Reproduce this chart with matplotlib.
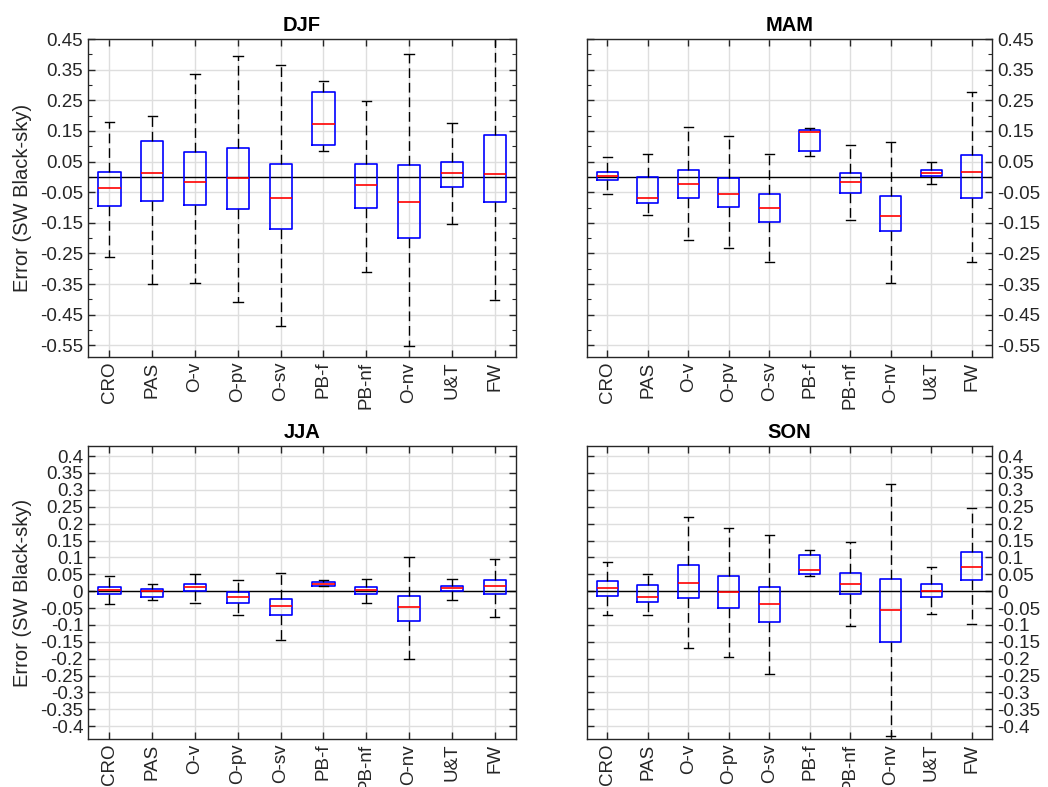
import matplotlib.pyplot as plt
import numpy as np
from matplotlib.ticker import FixedLocator

plt.rcParams['font.family'] = ['Liberation Sans', 'DejaVu Sans']

classes = ['CRO', 'PAS', 'O-v', 'O-pv', 'O-sv', 'PB-f', 'PB-nf', 'O-nv', 'U&T', 'FW']

# per season: lower whisker, Q1, median, Q3, upper whisker
djf_lo = [-0.261, -0.351, -0.347, -0.410, -0.487, 0.086, -0.309, -0.551, -0.154, -0.401]
djf_q1 = [-0.096, -0.078, -0.091, -0.105, -0.170, 0.103, -0.101, -0.201, -0.033, -0.083]
djf_med = [-0.037, 0.013, -0.015, -0.004, -0.070, 0.172, -0.028, -0.083, 0.013, 0.009]
djf_q3 = [0.016, 0.117, 0.080, 0.095, 0.043, 0.276, 0.043, 0.039, 0.048, 0.136]
djf_hi = [0.180, 0.199, 0.336, 0.396, 0.367, 0.312, 0.249, 0.400, 0.176, 0.470]

mam_lo = [-0.055, -0.123, -0.205, -0.233, -0.278, 0.067, -0.142, -0.347, -0.023, -0.278]
mam_q1 = [-0.011, -0.084, -0.070, -0.097, -0.146, 0.086, -0.051, -0.177, 0.004, -0.070]
mam_med = [0.004, -0.070, -0.023, -0.055, -0.101, 0.146, -0.018, -0.128, 0.013, 0.017]
mam_q3 = [0.017, -0.001, 0.022, -0.004, -0.055, 0.154, 0.012, -0.061, 0.022, 0.072]
mam_hi = [0.064, 0.076, 0.163, 0.132, 0.076, 0.159, 0.104, 0.113, 0.049, 0.277]

jja_lo = [-0.038, -0.026, -0.034, -0.071, -0.146, 0.015, -0.034, -0.200, -0.026, -0.076]
jja_q1 = [-0.007, -0.018, -0.001, -0.034, -0.072, 0.016, -0.008, -0.089, 0.000, -0.009]
jja_med = [0.004, 0.000, 0.012, -0.018, -0.043, 0.021, 0.003, -0.048, 0.008, 0.016]
jja_q3 = [0.011, 0.007, 0.021, -0.004, -0.022, 0.028, 0.011, -0.014, 0.016, 0.032]
jja_hi = [0.045, 0.020, 0.050, 0.032, 0.053, 0.032, 0.036, 0.100, 0.036, 0.095]

son_lo = [-0.071, -0.071, -0.167, -0.196, -0.246, 0.046, -0.104, -0.428, -0.067, -0.096]
son_q1 = [-0.013, -0.033, -0.021, -0.050, -0.092, 0.050, -0.008, -0.150, -0.017, 0.033]
son_med = [0.008, -0.017, 0.025, -0.004, -0.038, 0.062, 0.021, -0.055, 0.000, 0.071]
son_q3 = [0.029, 0.017, 0.076, 0.046, 0.012, 0.108, 0.054, 0.037, 0.021, 0.116]
son_hi = [0.087, 0.051, 0.221, 0.188, 0.166, 0.121, 0.145, 0.316, 0.071, 0.246]

seasons = [
    ('DJF', djf_lo, djf_q1, djf_med, djf_q3, djf_hi),
    ('MAM', mam_lo, mam_q1, mam_med, mam_q3, mam_hi),
    ('JJA', jja_lo, jja_q1, jja_med, jja_q3, jja_hi),
    ('SON', son_lo, son_q1, son_med, son_q3, son_hi),
]

fig = plt.figure(figsize=(10.48, 7.87), dpi=100)
rects = [
    [0.0840, 0.5464, 0.4084, 0.4041],
    [0.5601, 0.5464, 0.3865, 0.4041],
    [0.0840, 0.0610, 0.4084, 0.3723],
    [0.5601, 0.0610, 0.3865, 0.3723],
]
grey = '#262626'

for i, (name, lo, q1, med, q3, hi) in enumerate(seasons):
    ax = fig.add_axes(rects[i])
    stats = []
    for k in range(len(classes)):
        stats.append({'whislo': lo[k], 'q1': q1[k], 'med': med[k],
                      'q3': q3[k], 'whishi': hi[k], 'fliers': []})
    pos = np.arange(1, len(classes) + 1)
    ax.axhline(0, color='black', lw=1.0, zorder=1)
    ax.bxp(stats, positions=pos, widths=0.52, capwidths=0.22, showfliers=False,
           boxprops=dict(color='blue', lw=1.2),
           medianprops=dict(color='red', lw=1.2),
           whiskerprops=dict(color='black', lw=1.0, linestyle=(0, (7, 3.5))),
           capprops=dict(color='black', lw=1.0))
    ax.set_xlim(0.5, 10.5)
    ax.set_xticks(pos)
    ax.set_xticklabels(classes, rotation=90, fontsize=13.5, color=grey, va='top')

    if i < 2:
        ax.set_ylim(-0.588, 0.4505)
        yt = np.round(np.arange(-0.55, 0.46, 0.1), 2)
        ax.set_yticks(yt)
        ax.set_yticklabels(['%.2f' % v for v in yt])
        ax.yaxis.set_minor_locator(FixedLocator(np.round(np.arange(-0.5, 0.41, 0.1), 2)))
    else:
        ax.set_ylim(-0.438, 0.43)
        yt = np.round(np.arange(-0.4, 0.41, 0.05), 2)
        ax.set_yticks(yt)
        ax.set_yticklabels(['%g' % v if v != 0 else '0' for v in yt])

    ax.grid(True, which='major', color='#dedede', lw=1.0, zorder=0)
    ax.set_axisbelow(True)
    ax.tick_params(axis='both', which='both', direction='in', top=True, right=True,
                   left=True, bottom=True, colors=grey, labelcolor=grey)
    ax.tick_params(axis='both', which='major', length=5, width=1)
    ax.tick_params(axis='y', which='minor', length=3, width=0.8)
    ax.tick_params(axis='y', labelsize=13.5)
    for s in ax.spines.values():
        s.set_color(grey)
        s.set_linewidth(1.0)

    if i % 2 == 1:
        ax.tick_params(axis='y', labelleft=False, labelright=True)
    else:
        ax.set_ylabel('Error (SW Black-sky)', fontsize=14.5, color=grey, labelpad=6)

    ax.set_title(name, fontsize=14.5, fontweight='bold', pad=6)

fig.savefig('out.png', dpi=100)
